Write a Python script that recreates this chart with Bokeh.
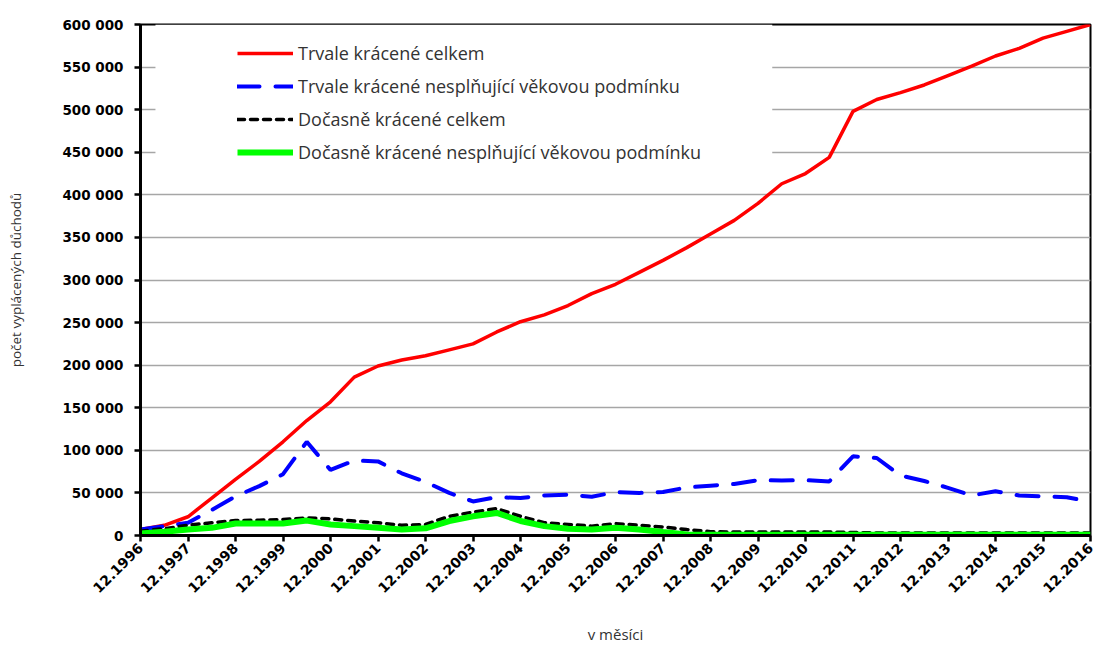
import math
from bokeh.plotting import figure
from bokeh.models import (ColumnDataSource, Range1d, FixedTicker, Legend, LegendItem,
                          BoxAnnotation)
from bokeh.embed import file_html
from bokeh.resources import INLINE

# ---------------- data (semi-annual, 12.1996 ... 12.2016) ----------------
periods = ["12.1996", "06.1997", "12.1997", "06.1998", "12.1998", "06.1999", "12.1999",
           "06.2000", "12.2000", "06.2001", "12.2001", "06.2002", "12.2002", "06.2003",
           "12.2003", "06.2004", "12.2004", "06.2005", "12.2005", "06.2006", "12.2006",
           "06.2007", "12.2007", "06.2008", "12.2008", "06.2009", "12.2009", "06.2010",
           "12.2010", "06.2011", "12.2011", "06.2012", "12.2012", "06.2013", "12.2013",
           "06.2014", "12.2014", "06.2015", "12.2015", "06.2016", "12.2016"]

trvale_celkem = [7000, 12000, 22000, 44000, 66000, 87000, 110000, 135000, 157000, 186000,
                 199000, 206000, 211000, 218000, 225000, 239000, 251000, 259000, 270000,
                 284000, 295000, 309000, 323000, 338000, 354000, 370000, 390000, 413000,
                 425000, 444000, 498000, 512000, 520000, 529000, 540000, 551000, 563000,
                 572000, 584000, 592000, 600000]

trvale_nesplnujici = [7000, 11000, 15000, 30000, 46000, 58000, 72000, 110000, 77000, 88000,
                      87000, 73000, 63000, 50000, 40000, 45000, 44000, 47000, 48000, 45500,
                      51000, 50000, 51000, 56500, 58500, 60500, 65000, 64500, 65000, 63500,
                      93000, 91000, 70500, 64000, 56000, 47000, 52000, 47000, 46000, 45000,
                      39500]

docasne_celkem = [5000, 8000, 12000, 15000, 17500, 18000, 18700, 20700, 19500, 17000,
                  15000, 12000, 13000, 22500, 27500, 31500, 22500, 15000, 13000, 11000,
                  14000, 12000, 10000, 7000, 4500, 4000, 4000, 4000, 4000, 4000,
                  3500, 3000, 3000, 3000, 3000, 3000, 3000, 3000, 3000, 3000, 3000]

docasne_nesplnujici = [2300, 4500, 7000, 9000, 14000, 14000, 14000, 17500, 13000, 11000,
                       9000, 7000, 8500, 17000, 22500, 26500, 17000, 11000, 8000, 7000,
                       9000, 7000, 4000, 1200, 800, 800, 800, 800, 800, 800,
                       800, 800, 800, 800, 800, 800, 800, 800, 800, 800, 800]

series_names = ["Trvale krácené celkem",
                "Trvale krácené nesplňující věkovou podmínku",
                "Dočasně krácené celkem",
                "Dočasně krácené nesplňující věkovou podmínku"]

x_tick_labels = ["12.1996", "12.1997", "12.1998", "12.1999", "12.2000", "12.2001", "12.2002",
                 "12.2003", "12.2004", "12.2005", "12.2006", "12.2007", "12.2008", "12.2009",
                 "12.2010", "12.2011", "12.2012", "12.2013", "12.2014", "12.2015", "12.2016"]

y_ticks = [0, 50000, 100000, 150000, 200000, 250000, 300000, 350000, 400000, 450000,
           500000, 550000, 600000]
y_tick_labels = ["0", "50 000", "100 000", "150 000", "200 000", "250 000", "300 000",
                 "350 000", "400 000", "450 000", "500 000", "550 000", "600 000"]

y_title = "počet vyplácených důchodů"
x_title = "v měsíci"

# ---------------- figure ----------------
idx = list(range(len(periods)))
x_tick_pos = [periods.index(lbl) for lbl in x_tick_labels]

source = ColumnDataSource(dict(x=idx, period=periods,
                               a=trvale_celkem, b=trvale_nesplnujici,
                               c=docasne_celkem, d=docasne_nesplnujici))

p = figure(width=1099, height=646, output_backend="svg", toolbar_location=None,
           x_range=Range1d(0, len(periods) - 1), y_range=Range1d(0, 600000),
           min_border_left=140, min_border_right=9, min_border_top=24,
           min_border_bottom=110)
p.background_fill_color = "white"
p.border_fill_color = "white"
p.outline_line_color = "black"
p.outline_line_width = 2

# grid
p.xgrid.grid_line_color = None
p.ygrid.grid_line_color = "#a6a6a6"
p.ygrid.grid_line_width = 1.3

# white legend background that hides the grid lines behind the legend
p.add_layout(BoxAnnotation(left=0.63, right=26.6, bottom=423000, top=600000,
                           fill_color="white", fill_alpha=1.0, line_alpha=0,
                           level="underlay"))

# axes
p.yaxis.ticker = FixedTicker(ticks=y_ticks)
p.yaxis.major_label_overrides = dict(zip(y_ticks, y_tick_labels))
p.xaxis.ticker = FixedTicker(ticks=x_tick_pos)
p.xaxis.major_label_overrides = dict(zip(x_tick_pos, x_tick_labels))
p.xaxis.major_label_orientation = math.pi / 4
for ax in (p.xaxis[0], p.yaxis[0]):
    ax.axis_line_color = "black"
    ax.axis_line_width = 3
    ax.major_tick_line_color = "black"
    ax.major_tick_line_width = 2.5
    ax.major_tick_out = 6
    ax.major_tick_in = 0
    ax.minor_tick_line_color = None
    ax.major_label_text_font = "DejaVu Sans"
    ax.major_label_text_font_style = "bold"
    ax.major_label_text_color = "black"
    ax.axis_label_text_font = "Open Sans"
    ax.axis_label_text_font_style = "normal"
    ax.axis_label_text_color = "#333333"
p.yaxis.major_label_text_font_size = "13.5px"
p.yaxis.major_label_standoff = 11
p.xaxis.major_label_text_font_size = "14px"
p.xaxis.major_label_standoff = 4

p.yaxis.axis_label = y_title
p.yaxis.axis_label_text_font_size = "13.5px"
p.yaxis.axis_label_standoff = 34
p.xaxis.axis_label = x_title
p.xaxis.axis_label_text_font_size = "15px"
p.xaxis.axis_label_standoff = 23

# lines
r_a = p.line("x", "a", source=source, line_color="#ff0000", line_width=3.5)
r_b = p.line("x", "b", source=source, line_color="#0000ff", line_width=4,
             line_dash="22 16", line_cap="round")
r_c = p.line("x", "c", source=source, line_color="black", line_width=3.5,
             line_dash="7 6", line_cap="round")
r_d = p.line("x", "d", source=source, line_color="#00ff00", line_width=6)

legend = Legend(items=[LegendItem(label=series_names[0], renderers=[r_a]),
                       LegendItem(label=series_names[1], renderers=[r_b]),
                       LegendItem(label=series_names[2], renderers=[r_c]),
                       LegendItem(label=series_names[3], renderers=[r_d])],
                location=(97, 370), orientation="vertical")
legend.background_fill_alpha = 0
legend.border_line_color = None
legend.padding = 0
legend.margin = 0
legend.spacing = 7
legend.glyph_width = 56
legend.glyph_height = 26
legend.label_height = 26
legend.label_standoff = 5
legend.label_text_font = "Open Sans"
legend.label_text_font_size = "18px"
legend.label_text_color = "#333333"
p.add_layout(legend)

open("out.html", "w").write(file_html(p, INLINE))
